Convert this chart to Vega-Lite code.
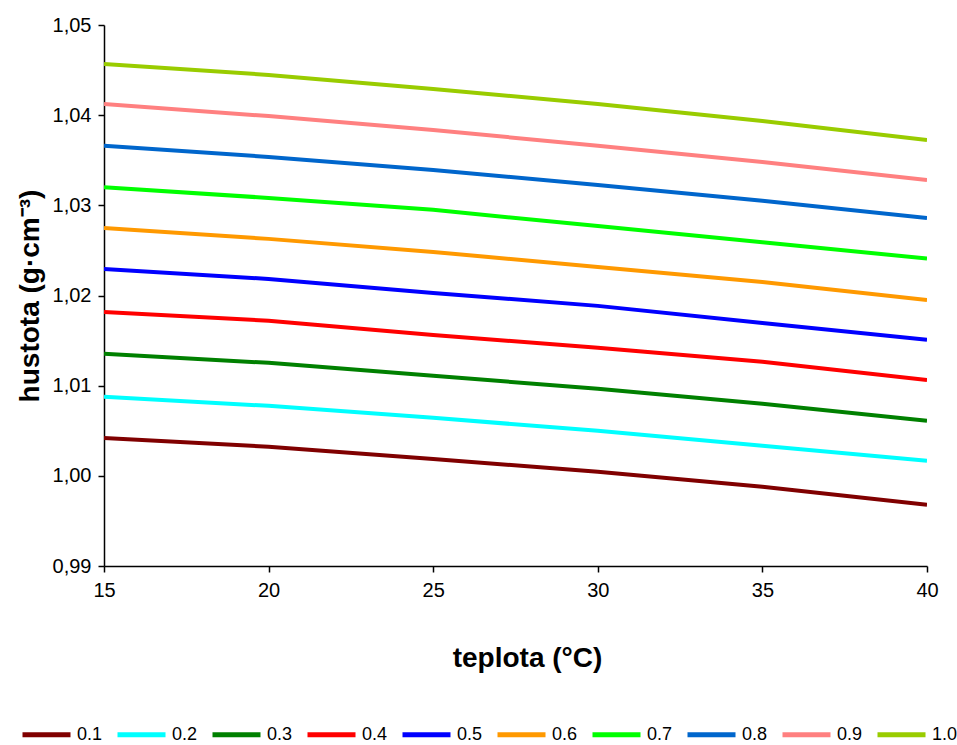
{
  "$schema": "https://vega.github.io/schema/vega-lite/v6.json",
  "width": 823,
  "height": 541,
  "autosize": {"type": "none"},
  "padding": {"left": 104, "top": 25, "right": 30, "bottom": 179},
  "background": "white",
  "config": {
    "view": {"stroke": null},
    "font": "Liberation Sans"
  },
  "data": {
    "values": [
      {"t": 15, "c": "0.1", "d": 1.00421}, {"t": 20, "c": "0.1", "d": 1.00322}, {"t": 25, "c": "0.1", "d": 1.00188}, {"t": 30, "c": "0.1", "d": 1.00044}, {"t": 35, "c": "0.1", "d": 0.99878}, {"t": 40, "c": "0.1", "d": 0.99678},
      {"t": 15, "c": "0.2", "d": 1.00876}, {"t": 20, "c": "0.2", "d": 1.00776}, {"t": 25, "c": "0.2", "d": 1.00643}, {"t": 30, "c": "0.2", "d": 1.005}, {"t": 35, "c": "0.2", "d": 1.00333}, {"t": 40, "c": "0.2", "d": 1.00166},
      {"t": 15, "c": "0.3", "d": 1.01353}, {"t": 20, "c": "0.3", "d": 1.01253}, {"t": 25, "c": "0.3", "d": 1.0111}, {"t": 30, "c": "0.3", "d": 1.00965}, {"t": 35, "c": "0.3", "d": 1.008}, {"t": 40, "c": "0.3", "d": 1.0061},
      {"t": 15, "c": "0.4", "d": 1.01818}, {"t": 20, "c": "0.4", "d": 1.0172}, {"t": 25, "c": "0.4", "d": 1.01563}, {"t": 30, "c": "0.4", "d": 1.0142}, {"t": 35, "c": "0.4", "d": 1.01264}, {"t": 40, "c": "0.4", "d": 1.01064},
      {"t": 15, "c": "0.5", "d": 1.02295}, {"t": 20, "c": "0.5", "d": 1.02184}, {"t": 25, "c": "0.5", "d": 1.02029}, {"t": 30, "c": "0.5", "d": 1.01885}, {"t": 35, "c": "0.5", "d": 1.01696}, {"t": 40, "c": "0.5", "d": 1.01508},
      {"t": 15, "c": "0.6", "d": 1.0275}, {"t": 20, "c": "0.6", "d": 1.02628}, {"t": 25, "c": "0.6", "d": 1.02483}, {"t": 30, "c": "0.6", "d": 1.02317}, {"t": 35, "c": "0.6", "d": 1.0215}, {"t": 40, "c": "0.6", "d": 1.01951},
      {"t": 15, "c": "0.7", "d": 1.032}, {"t": 20, "c": "0.7", "d": 1.03082}, {"t": 25, "c": "0.7", "d": 1.0295}, {"t": 30, "c": "0.7", "d": 1.0277}, {"t": 35, "c": "0.7", "d": 1.0259}, {"t": 40, "c": "0.7", "d": 1.0241},
      {"t": 15, "c": "0.8", "d": 1.0366}, {"t": 20, "c": "0.8", "d": 1.03537}, {"t": 25, "c": "0.8", "d": 1.03393}, {"t": 30, "c": "0.8", "d": 1.03226}, {"t": 35, "c": "0.8", "d": 1.0305}, {"t": 40, "c": "0.8", "d": 1.0286},
      {"t": 15, "c": "0.9", "d": 1.04124}, {"t": 20, "c": "0.9", "d": 1.0399}, {"t": 25, "c": "0.9", "d": 1.03836}, {"t": 30, "c": "0.9", "d": 1.0366}, {"t": 35, "c": "0.9", "d": 1.0348}, {"t": 40, "c": "0.9", "d": 1.0328},
      {"t": 15, "c": "1.0", "d": 1.04568}, {"t": 20, "c": "1.0", "d": 1.04446}, {"t": 25, "c": "1.0", "d": 1.0429}, {"t": 30, "c": "1.0", "d": 1.04124}, {"t": 35, "c": "1.0", "d": 1.03936}, {"t": 40, "c": "1.0", "d": 1.03725}
    ]
  },
  "mark": {"type": "line", "strokeWidth": 4, "clip": true},
  "encoding": {
    "x": {
      "field": "t",
      "type": "quantitative",
      "scale": {"domain": [15, 40], "nice": false, "zero": false},
      "axis": {
        "title": "teplota (°C)",
        "values": [15, 20, 25, 30, 35, 40],
        "grid": false,
        "domainColor": "black",
        "domainWidth": 1.5,
        "tickColor": "black",
        "tickWidth": 1.5,
        "tickSize": 6,
        "labelFlush": false,
        "labelFont": "Liberation Sans",
        "labelFontSize": 20,
        "labelColor": "black",
        "labelPadding": 8,
        "titleFont": "Liberation Sans",
        "titleFontSize": 28,
        "titleFontWeight": "bold",
        "titleColor": "black",
        "titlePadding": 44,
        "titleX": 423
      }
    },
    "y": {
      "field": "d",
      "type": "quantitative",
      "scale": {"domain": [0.99, 1.05], "nice": false, "zero": false},
      "axis": {
        "title": "hustota (g·cm⁻³)",
        "values": [0.99, 1.0, 1.01, 1.02, 1.03, 1.04, 1.05],
        "labelExpr": "replace(format(datum.value, '.2f'), '.', ',')",
        "grid": false,
        "domainColor": "black",
        "domainWidth": 1.5,
        "tickColor": "black",
        "tickWidth": 1.5,
        "tickSize": 6,
        "labelFlush": false,
        "labelFont": "Liberation Sans",
        "labelFontSize": 20,
        "labelColor": "black",
        "labelPadding": 7,
        "titleFont": "Liberation Sans",
        "titleFontSize": 28,
        "titleFontWeight": "bold",
        "titleColor": "black",
        "titlePadding": 8
      }
    },
    "color": {
      "field": "c",
      "type": "nominal",
      "scale": {
        "domain": ["0.1", "0.2", "0.3", "0.4", "0.5", "0.6", "0.7", "0.8", "0.9", "1.0"],
        "range": ["#800000", "#00FFFF", "#008000", "#FF0000", "#0000FF", "#FF9900", "#00FF00", "#0066CC", "#FF8080", "#99CC00"]
      },
      "legend": {
        "title": null,
        "orient": "none",
        "legendX": -84,
        "legendY": 683,
        "direction": "horizontal",
        "columns": 10,
        "symbolType": "stroke",
        "symbolSize": 2304,
        "symbolStrokeWidth": 5,
        "labelFontSize": 18,
        "labelFont": "Liberation Sans",
        "labelColor": "black",
        "labelOffset": 4,
        "columnPadding": 4
      }
    }
  }
}
